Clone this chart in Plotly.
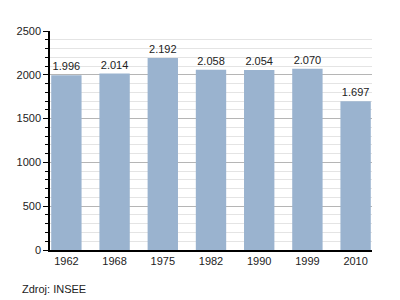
import plotly.graph_objects as go

years = ["1962", "1968", "1975", "1982", "1990", "1999", "2010"]
population = [1996, 2014, 2192, 2058, 2054, 2070, 1697]
labels = [f"{v:,}".replace(",", ".") for v in population]
source_text = "Zdroj: INSEE"

FONT = "Liberation Sans, Arial, sans-serif"

fig = go.Figure(go.Bar(
    x=years, y=population, text=labels,
    textposition="outside", cliponaxis=False,
    textfont=dict(family=FONT, size=11, color="#222"),
    marker=dict(color="#9ab3cf", line=dict(width=0)),
    width=0.63,
))

fig.update_layout(
    width=400, height=300,
    margin=dict(l=50, r=28, t=31, b=50),
    paper_bgcolor="white", plot_bgcolor="white",
    showlegend=False,
    font=dict(family=FONT, size=11, color="#222"),
    xaxis=dict(
        type="category", range=[-0.34, 6.34],
        showline=True, linecolor="black", linewidth=1.5,
        ticks="", showgrid=False, tickfont=dict(size=11),
    ),
    yaxis=dict(
        range=[0, 2500], dtick=500,
        showline=True, linecolor="black", linewidth=1.5,
        ticks="outside", ticklen=5, tickcolor="black",
        showgrid=True, gridcolor="#b5b5b5", gridwidth=1,
        zeroline=False, tickfont=dict(size=11), tickformat="d",
        minor=dict(dtick=100, ticks="outside", ticklen=3, tickcolor="black",
                   showgrid=True, gridcolor="#e4e4e4", gridwidth=1),
    ),
    annotations=[dict(
        text=source_text, xref="paper", yref="paper",
        x=-0.093, y=-0.178, xanchor="left", yanchor="middle",
        showarrow=False, font=dict(family=FONT, size=11, color="#222"),
    )],
)

fig.write_html("out.html")
